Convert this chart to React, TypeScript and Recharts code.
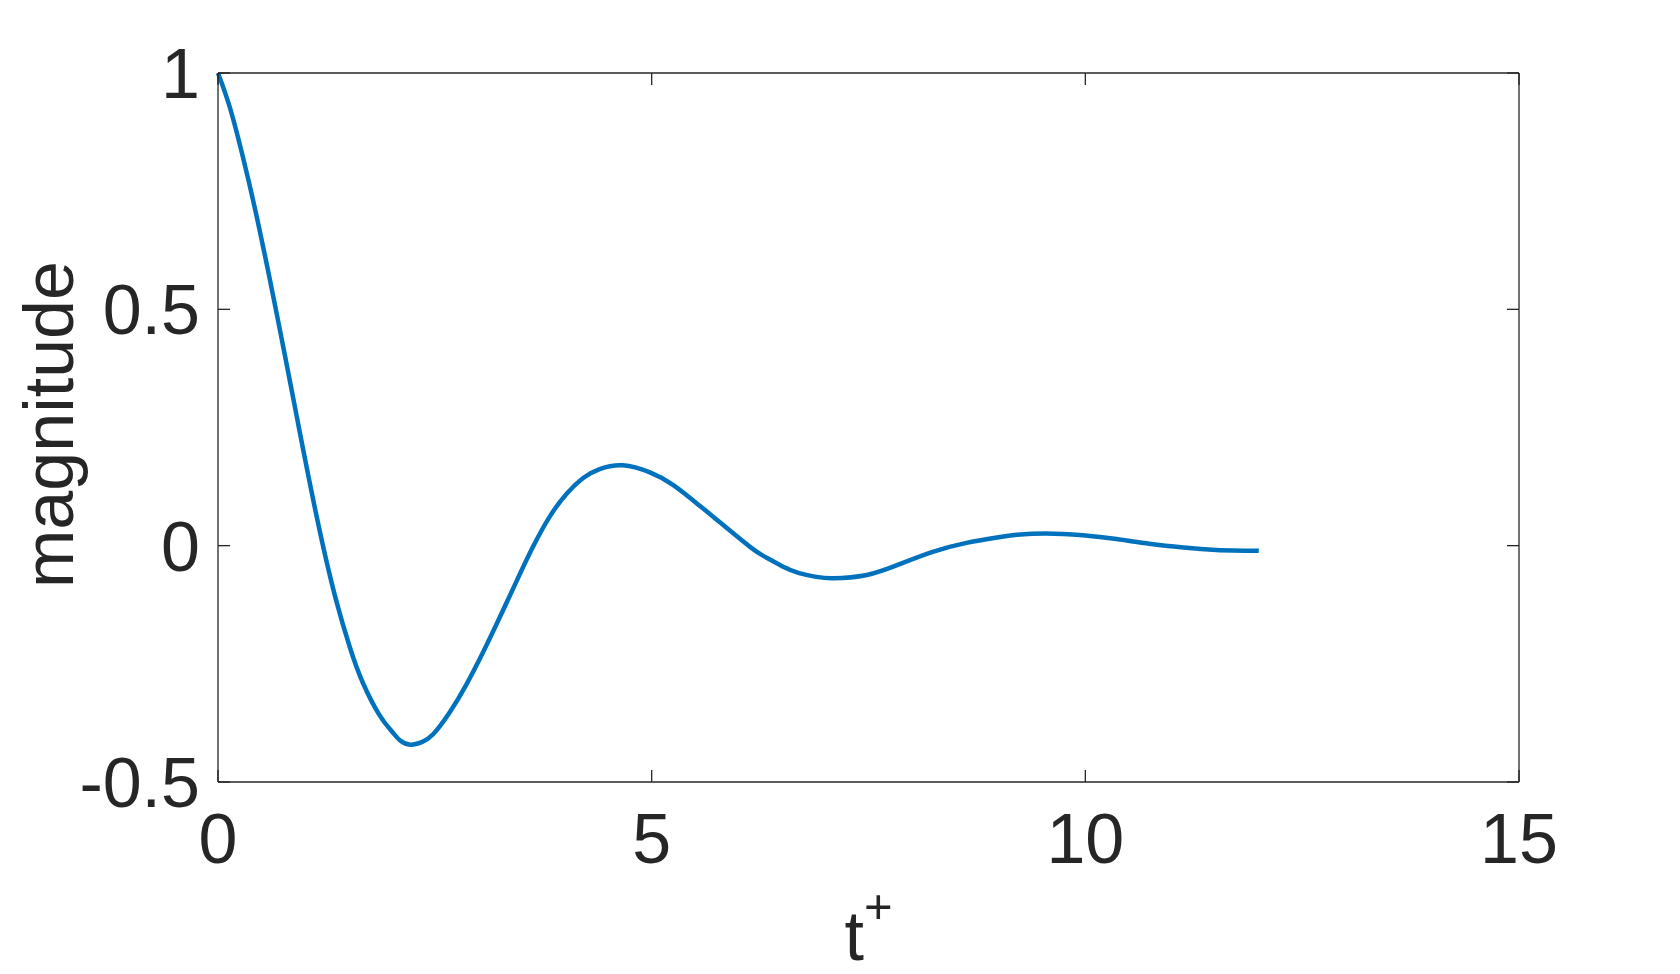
import { Label, Line, LineChart, XAxis, YAxis } from "recharts";

// values
const T = [
  0, 0.14, 0.29, 0.42, 0.54, 0.645, 0.77, 0.88, 0.98, 1.1, 1.22, 1.36, 1.52,
  1.67, 1.86, 2.0, 2.1, 2.22, 2.35, 2.48, 2.67, 2.86, 3.06, 3.25, 3.44, 3.63,
  3.83, 4.02, 4.21, 4.4, 4.67, 4.98, 5.25, 5.55, 5.75, 6.13, 6.32, 6.51, 6.7,
  6.9, 7.09, 7.48, 7.86, 8.24, 8.63, 9.0, 9.21, 9.55, 9.97, 10.36, 10.74,
  11.13, 11.51, 12.0,
];
const MAG = [
  1, 0.925, 0.82, 0.718, 0.615, 0.52, 0.404, 0.3, 0.205, 0.095, -0.008,
  -0.114, -0.215, -0.29, -0.358, -0.392, -0.412, -0.421, -0.4155, -0.399,
  -0.353, -0.295, -0.224, -0.151, -0.076, -0.003, 0.063, 0.11, 0.143, 0.162,
  0.17, 0.155, 0.128, 0.085, 0.055, -0.002, -0.025, -0.044, -0.058, -0.066,
  -0.069, -0.062, -0.039, -0.013, 0.006, 0.018, 0.023, 0.026, 0.022, 0.014,
  0.004, -0.004, -0.009, -0.011,
];
const X_TICKS = [0, 5, 10, 15];
const Y_TICKS = [-0.5, 0, 0.5, 1];
const Y_LABEL = "magnitude";

const data = T.map((t, i) => ({ t, mag: MAG[i] }));

const INK = "#262626";
const FONT = "'Liberation Sans', Arial, Helvetica, sans-serif";
const TICK_LEN = 12;

function BottomTick({ x, y, payload }: any) {
  return (
    <g>
      <line x1={x} x2={x} y1={y - 31} y2={y - 31 - TICK_LEN} stroke={INK} strokeWidth={1.3} />
      <text x={x} y={y} dy="0.71em" textAnchor="middle" fontSize={70} fontFamily={FONT} fill={INK}>
        {payload.value}
      </text>
    </g>
  );
}

function LeftTick({ x, y, payload }: any) {
  return (
    <g>
      <line x1={x + 18} x2={x + 18 + TICK_LEN} y1={y} y2={y} stroke={INK} strokeWidth={1.3} />
      <text x={x} y={y} dy="0.355em" textAnchor="end" fontSize={70} fontFamily={FONT} fill={INK}>
        {payload.value}
      </text>
    </g>
  );
}

function TopTick({ x, y }: any) {
  return <line x1={x} x2={x} y1={y} y2={y + TICK_LEN} stroke={INK} strokeWidth={1.3} />;
}

function RightTick({ x, y }: any) {
  return <line x1={x} x2={x - TICK_LEN} y1={y} y2={y} stroke={INK} strokeWidth={1.3} />;
}

export default function App() {
  const axisLine = { stroke: INK, strokeWidth: 1.3 };
  return (
    <div style={{ position: "fixed", left: 0, top: 0, width: 1680, height: 974, background: "#fff" }}>
      <LineChart
        width={1680}
        height={974}
        data={data}
        margin={{ top: 72, right: 160, left: 0, bottom: 0 }}
      >
        <XAxis
          dataKey="t"
          type="number"
          domain={[0, 15]}
          ticks={X_TICKS}
          height={192}
          tickSize={0}
          tickMargin={31}
          tickLine={false}
          axisLine={axisLine}
          tick={(p: any) => <BottomTick {...p} />}
          interval={0}
        >
          <Label
            content={({ viewBox }: any) => (
              <text
                x={viewBox.x + viewBox.width / 2}
                y={viewBox.y + 178}
                textAnchor="middle"
                fontSize={70}
                fontFamily={FONT}
                fill={INK}
              >
                <tspan>t</tspan>
                <tspan dy={-37} fontSize={49}>+</tspan>
              </text>
            )}
          />
        </XAxis>
        <XAxis
          xAxisId="top"
          dataKey="t"
          type="number"
          orientation="top"
          domain={[0, 15]}
          ticks={X_TICKS}
          height={1}
          tickSize={0}
          tickMargin={0}
          tickLine={false}
          axisLine={axisLine}
          tick={(p: any) => <TopTick {...p} />}
          interval={0}
        />
        <YAxis
          type="number"
          domain={[-0.5, 1]}
          ticks={Y_TICKS}
          width={218}
          tickSize={0}
          tickMargin={18}
          tickLine={false}
          axisLine={axisLine}
          tick={(p: any) => <LeftTick {...p} />}
          interval={0}
          allowDataOverflow
        >
          <Label
            content={({ viewBox }: any) => {
              const cx = viewBox.x + 73;
              const cy = viewBox.y + viewBox.height / 2 - 3;
              return (
                <text
                  x={cx}
                  y={cy}
                  transform={`rotate(-90 ${cx} ${cy})`}
                  textAnchor="middle"
                  fontSize={70}
                  fontFamily={FONT}
                  fill={INK}
                >
                  {Y_LABEL}
                </text>
              );
            }}
          />
        </YAxis>
        <YAxis
          yAxisId="right"
          type="number"
          orientation="right"
          domain={[-0.5, 1]}
          ticks={Y_TICKS}
          width={1}
          tickSize={0}
          tickMargin={0}
          tickLine={false}
          axisLine={axisLine}
          tick={(p: any) => <RightTick {...p} />}
          interval={0}
          allowDataOverflow
        />
        <Line
          type="natural"
          dataKey="mag"
          stroke="#0072BD"
          strokeWidth={4.5}
          dot={false}
          isAnimationActive={false}
        />
      </LineChart>
    </div>
  );
}
